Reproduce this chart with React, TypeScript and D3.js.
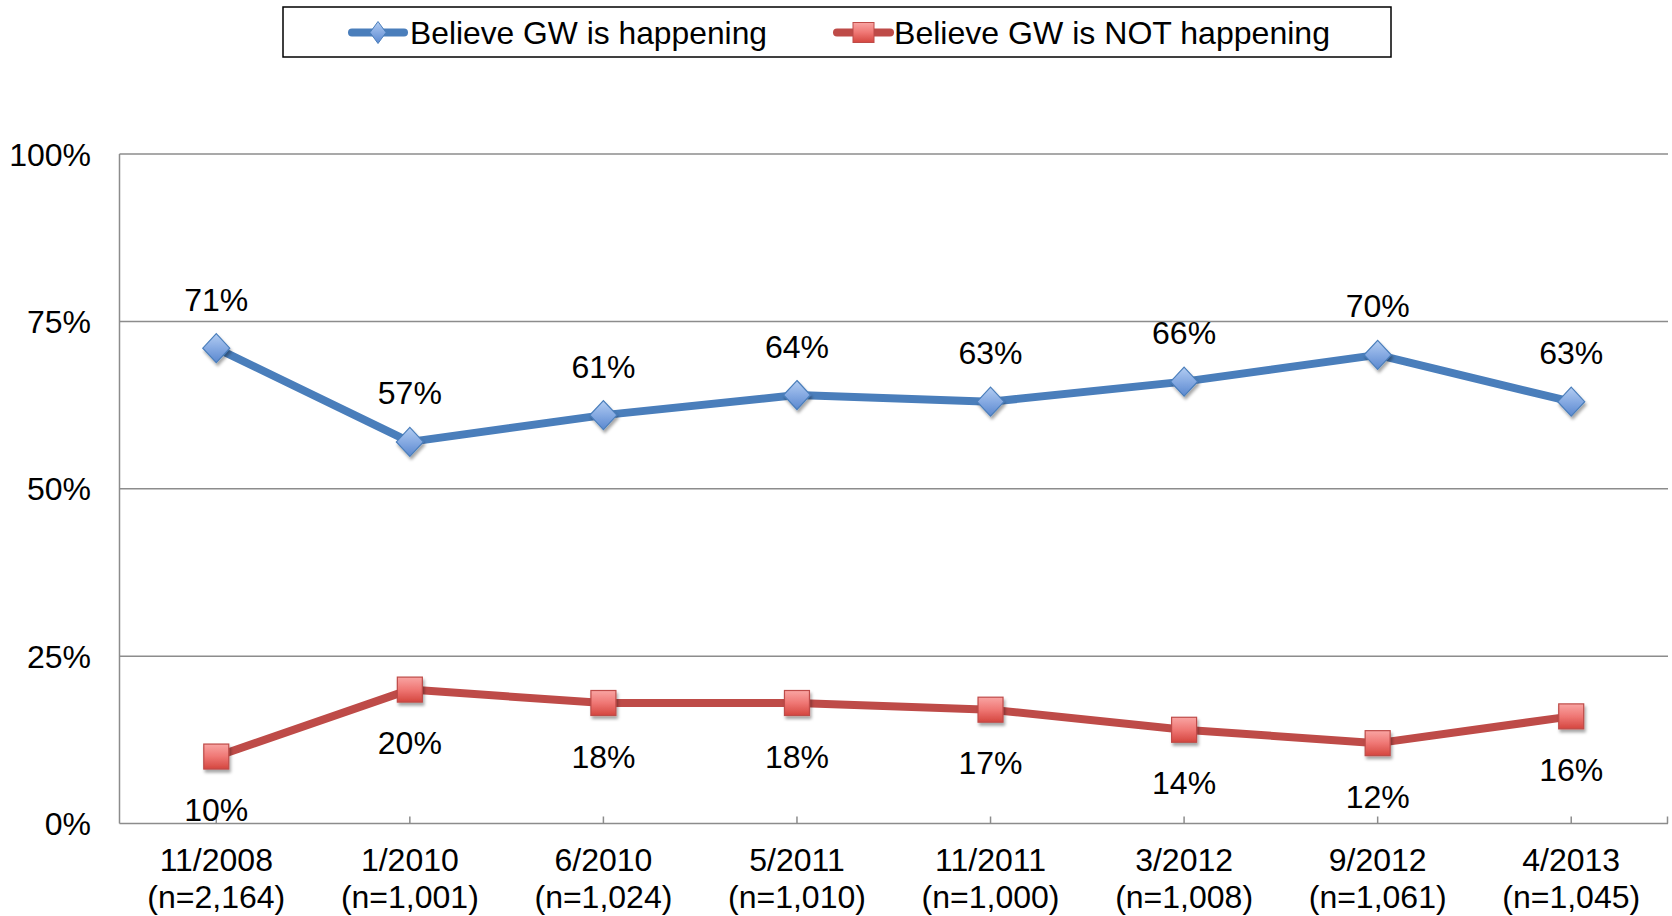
import React from "react";
import * as d3 from "d3";

const categories = ["11/2008", "1/2010", "6/2010", "5/2011", "11/2011", "3/2012", "9/2012", "4/2013"];
const sampleSizes = ["(n=2,164)", "(n=1,001)", "(n=1,024)", "(n=1,010)", "(n=1,000)", "(n=1,008)", "(n=1,061)", "(n=1,045)"];
const happening = [71, 57, 61, 64, 63, 66, 70, 63];
const notHappening = [10, 20, 18, 18, 17, 14, 12, 16];
const yTicks = [0, 25, 50, 75, 100];
const seriesNames = ["Believe GW is happening", "Believe GW is NOT happening"];

const W = 1672;
const H = 916;
const FONT = "'Liberation Sans', Arial, sans-serif";
const FS = 32;
const BLUE = "#4a7ebb";
const RED = "#be4b48";

export default function App() {
  const x = d3.scaleBand<string>().domain(categories).range([119.5, 1668]);
  const y = d3.scaleLinear().domain([0, 100]).range([823.5, 154]);
  const cx = (c: string) => (x(c) ?? 0) + x.bandwidth() / 2;

  const line = d3
    .line<number>()
    .x((_, i) => cx(categories[i]))
    .y((d) => y(d));

  const diamond = (px: number, py: number, w: number, h: number) =>
    `M${px},${py - h / 2}L${px + w / 2},${py}L${px},${py + h / 2}L${px - w / 2},${py}Z`;

  return (
    <div style={{ position: "fixed", left: 0, top: 0 }}>
      <svg width={W} height={H} style={{ display: "block", background: "#fff" }}>
        <defs>
          <linearGradient id="gBlue" x1="0" y1="0" x2="0" y2="1">
            <stop offset="0" stopColor="#b3cdf2" />
            <stop offset="0.5" stopColor="#86aae2" />
            <stop offset="1" stopColor="#5a88cf" />
          </linearGradient>
          <linearGradient id="gRed" x1="0" y1="0" x2="0" y2="1">
            <stop offset="0" stopColor="#f9a5a3" />
            <stop offset="0.5" stopColor="#ef7774" />
            <stop offset="1" stopColor="#d4463f" />
          </linearGradient>
          <filter id="shadow" x="-50%" y="-50%" width="200%" height="200%">
            <feDropShadow dx="1.5" dy="3" stdDeviation="1.6" floodColor="#000" floodOpacity="0.35" />
          </filter>
        </defs>

        {/* gridlines */}
        {yTicks.filter((t) => t > 0).map((t) => (
          <line key={t} x1={119.5} x2={1668} y1={y(t)} y2={y(t)} stroke="#8c8c8c" strokeWidth={1.5} />
        ))}
        {/* axes */}
        <line x1={119.5} x2={119.5} y1={y(100)} y2={y(0)} stroke="#8c8c8c" strokeWidth={1.5} />
        <line x1={119.5} x2={1668} y1={y(0)} y2={y(0)} stroke="#8c8c8c" strokeWidth={1.5} />
        {categories.map((c) => (
          <line key={c} x1={cx(c)} x2={cx(c)} y1={y(0)} y2={y(0) - 7} stroke="#8c8c8c" strokeWidth={1.5} />
        ))}
        <line x1={1667.5} x2={1667.5} y1={y(0)} y2={y(0) - 7} stroke="#8c8c8c" strokeWidth={1.5} />

        {/* y tick labels */}
        {yTicks.map((t) => (
          <text key={t} x={91} y={y(t)} dy="0.36em" textAnchor="end" fontFamily={FONT} fontSize={FS} fill="#000">
            {t}%
          </text>
        ))}

        {/* x tick labels */}
        {categories.map((c, i) => (
          <text key={c} textAnchor="middle" fontFamily={FONT} fontSize={FS} fill="#000">
            <tspan x={cx(c)} y={871}>{c}</tspan>
            <tspan x={cx(c)} y={907.5}>{sampleSizes[i]}</tspan>
          </text>
        ))}

        {/* lines */}
        <path d={line(happening) ?? ""} fill="none" stroke={BLUE} strokeWidth={8} strokeLinejoin="round" />
        <path d={line(notHappening) ?? ""} fill="none" stroke={RED} strokeWidth={8} strokeLinejoin="round" />

        {/* markers */}
        {happening.map((v, i) => (
          <path
            key={"b" + i}
            d={diamond(cx(categories[i]), y(v), 27, 29)}
            fill="url(#gBlue)"
            stroke={BLUE}
            strokeWidth={1.2}
            filter="url(#shadow)"
          />
        ))}
        {notHappening.map((v, i) => (
          <rect
            key={"r" + i}
            x={cx(categories[i]) - 12.5}
            y={y(v) - 12.5}
            width={25}
            height={25}
            fill="url(#gRed)"
            stroke={RED}
            strokeWidth={1.2}
            filter="url(#shadow)"
          />
        ))}

        {/* data labels */}
        {happening.map((v, i) => (
          <text
            key={"lb" + i}
            x={cx(categories[i])}
            y={y(v) - 49}
            dy="0.36em"
            textAnchor="middle"
            fontFamily={FONT}
            fontSize={FS}
            fill="#000"
          >
            {v}%
          </text>
        ))}
        {notHappening.map((v, i) => (
          <text
            key={"lr" + i}
            x={cx(categories[i])}
            y={y(v) + 53}
            dy="0.36em"
            textAnchor="middle"
            fontFamily={FONT}
            fontSize={FS}
            fill="#000"
          >
            {v}%
          </text>
        ))}

        {/* legend */}
        <rect x={283} y={7} width={1108} height={50} fill="#fff" stroke="#000" strokeWidth={1.5} />
        <line x1={352} x2={404} y1={32.5} y2={32.5} stroke={BLUE} strokeWidth={8} strokeLinecap="round" />
        <path d={diamond(378, 32.5, 16, 22)} fill="url(#gBlue)" stroke={BLUE} strokeWidth={1} />
        <text x={410} y={32.5} dy="0.36em" fontFamily={FONT} fontSize={FS} fill="#000" textLength={357} lengthAdjust="spacingAndGlyphs">
          {seriesNames[0]}
        </text>
        <line x1={837} x2={890} y1={32.5} y2={32.5} stroke={RED} strokeWidth={8} strokeLinecap="round" />
        <rect x={853} y={22.5} width={21} height={20} fill="url(#gRed)" stroke={RED} strokeWidth={1} />
        <text x={894} y={32.5} dy="0.36em" fontFamily={FONT} fontSize={FS} fill="#000" textLength={436} lengthAdjust="spacingAndGlyphs">
          {seriesNames[1]}
        </text>
      </svg>
    </div>
  );
}
